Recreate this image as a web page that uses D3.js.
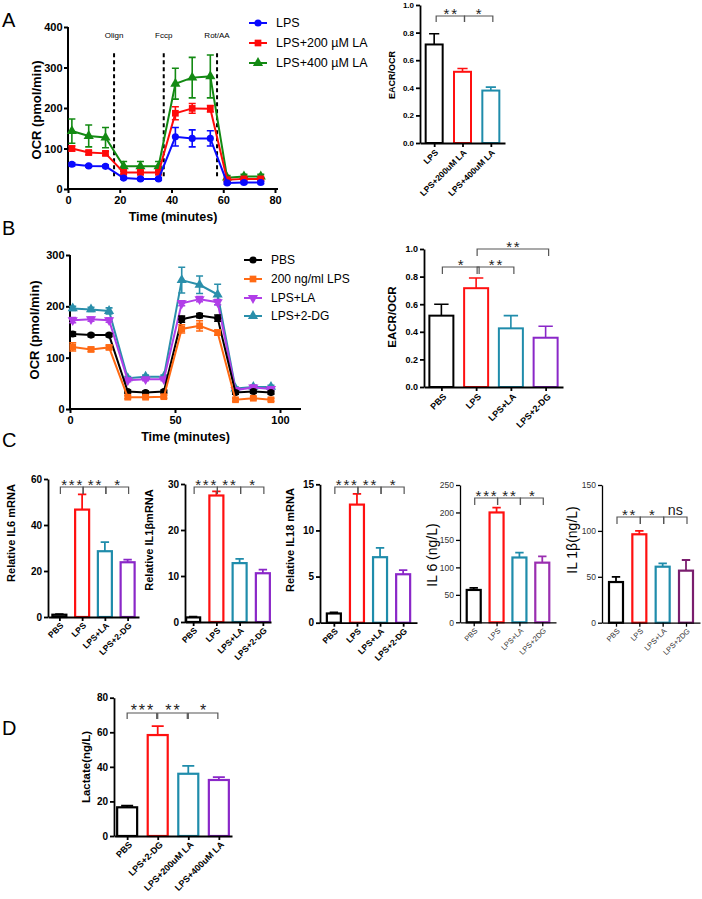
<!DOCTYPE html>
<html>
<head>
<meta charset="utf-8">
<script src="https://cdn.jsdelivr.net/npm/d3@7"></script>
<style>
  body { margin: 0; background: #fff; }
  svg { display: block; }
</style>
</head>
<body>
<svg id="fig" width="702" height="899"></svg>
<script>
// ---- data: panel A (OCR time course) ----
const timeA = [1.5, 8, 14.5, 21.5, 28, 35, 41.5, 48, 55, 61.5, 68, 74.5];
const ocrA_lps = [61, 57, 56, 27, 25, 25, 129, 125, 125, 15, 16, 16];
const ocrA_lps_err = [4, 3, 3, 3, 3, 3, 23, 21, 19, 3, 3, 3];
const ocrA_la200 = [100, 90, 88, 41, 41, 41, 187, 199, 198, 23, 25, 25];
const ocrA_la200_err = [6, 5, 5, 5, 5, 5, 16, 12, 8, 4, 4, 4];
const ocrA_la400 = [143, 131, 127, 56, 56, 56, 260, 275, 278, 28, 31, 31];
const ocrA_la400_err = [30, 27, 25, 12, 12, 12, 38, 50, 53, 5, 5, 5];
const injTimes = [17.8, 37, 57.6];
const injLabels = ['Olign', 'Fccp', 'Rot/AA'];
const seriesNamesA = ['LPS', 'LPS+200 \u00b5M LA', 'LPS+400 \u00b5M LA'];

// ---- panel A bars ----
const catsA = ['LPS', 'LPS+200uM LA', 'LPS+400uM LA'];
const ratioA = [0.714, 0.516, 0.38];
const ratioA_err = [0.078, 0.024, 0.025];
const sigA = [[0, 1, '**'], [1, 2, '*']];

// ---- panel B (OCR time course) ----
const timeB = [1.3, 10, 18.6, 27.5, 36, 44.7, 53.2, 61.7, 70.3, 78.8, 87.3, 95.7];
const ocrB_pbs = [146, 144, 144, 34, 32, 34, 175, 182, 177, 32, 34, 32];
const ocrB_pbs_err = [4, 3, 3, 3, 3, 3, 6, 4, 6, 3, 3, 3];
const ocrB_lps = [121, 116, 120, 23, 23, 24, 156, 162, 149, 18, 21, 18];
const ocrB_lps_err = [8, 4, 4, 3, 3, 3, 8, 10, 5, 3, 3, 3];
const ocrB_la = [173, 175, 173, 56, 58, 58, 206, 214, 208, 37, 42, 39];
const ocrB_la_err = [5, 4, 4, 3, 3, 3, 5, 5, 5, 3, 4, 3];
const ocrB_dg = [196, 194, 191, 60, 63, 63, 251, 242, 223, 40, 43, 43];
const ocrB_dg_err = [4, 4, 6, 3, 3, 3, 25, 17, 20, 3, 3, 3];
const seriesNamesB = ['PBS', '200 ng/ml LPS', 'LPS+LA', 'LPS+2-DG'];

// ---- panel B bars ----
const catsB = ['PBS', 'LPS', 'LPS+LA', 'LPS+2-DG'];
const ratioB = [0.517, 0.716, 0.425, 0.357];
const ratioB_err = [0.083, 0.074, 0.092, 0.083];
const sigB = [[0, 1, '*'], [1, 2, '**'], [1, 3, '**']];

// ---- panel C ----
const catsC = ['PBS', 'LPS', 'LPS+LA', 'LPS+2-DG'];
const catsC2 = ['PBS', 'LPS', 'LPS+LA', 'LPS+2DG'];
const il6mrna = [1, 46.7, 28.6, 23.8];
const il6mrna_err = [0.3, 6.6, 4.0, 1.1];
const il1bmrna = [1, 27.5, 12.8, 10.6];
const il1bmrna_err = [0.15, 0.9, 0.9, 0.8];
const il18mrna = [1.0, 12.8, 7.1, 5.25];
const il18mrna_err = [0.12, 1.15, 1.0, 0.45];
const il6prot = [58.9, 200, 118, 108.6];
const il6prot_err = [3.6, 9, 8.7, 11.4];
const il1bprot = [44.3, 96.3, 61, 56.7];
const il1bprot_err = [5.7, 3.6, 3.7, 11.6];
const sigC = [[0, 1, '***'], [1, 2, '**'], [2, 3, '*']];
const sigC5 = [[0, 1, '**'], [1, 2, '*'], [2, 3, 'ns']];

// ---- panel D ----
const catsD = ['PBS', 'LPS+2-DG', 'LPS+200uM LA', 'LPS+400uM LA'];
const lactate = [16.6, 58.4, 36, 32.4];
const lactate_err = [0.9, 5.2, 4.5, 1.6];
const sigD = [[0, 1, '***'], [1, 2, '**'], [2, 3, '*']];

// colours
const RED = '#ff1010', TEAL = '#1f8cab', PURPLE = '#8a27c8';

const FONT = '"Liberation Sans", Arial, sans-serif';
const svg = d3.select('#fig');
svg.append('rect').attr('width', 702).attr('height', 899).attr('fill', '#fff');

function styleAxis(g, fs, sw, fw, col) {
  g.attr('font-family', FONT).attr('font-size', fs).attr('font-weight', fw || 'bold');
  g.select('.domain').attr('stroke-width', sw).attr('stroke', '#000');
  g.selectAll('.tick line').attr('stroke-width', sw).attr('stroke', '#000');
  g.selectAll('.tick text').attr('fill', col || '#000');
}

function vTitle(x, y, txt, fs, fw) {
  svg.append('text').attr('transform', `translate(${x},${y}) rotate(-90)`)
    .attr('text-anchor', 'middle').attr('dy', '0.35em')
    .attr('font-family', FONT).attr('font-size', fs).attr('font-weight', fw)
    .text(txt);
}

function panelLabel(x, y, t) {
  svg.append('text').attr('x', x).attr('y', y).attr('font-family', FONT)
    .attr('font-size', 20).text(t);
}

// ---------- line (OCR) panels ----------
function linePanel(o) {
  const x = d3.scaleLinear().domain(o.xd).range(o.xr);
  const y = d3.scaleLinear().domain(o.yd).range(o.yr);
  const gx = svg.append('g').attr('transform', `translate(0,${o.yr[0]})`)
    .call(d3.axisBottom(x).tickValues(o.xt).tickSize(4).tickSizeOuter(0).tickPadding(3));
  styleAxis(gx, 11, 2);
  const gy = svg.append('g').attr('transform', `translate(${o.xr[0]},0)`)
    .call(d3.axisLeft(y).tickValues(o.yt).tickSize(4).tickSizeOuter(0).tickPadding(1.5));
  styleAxis(gy, 11, 2);
  gx.select('.domain').attr('d', `M${o.xr[0]},0H${o.xend}`);
  gy.select('.domain').attr('d', `M0,${o.yr[0]}V${o.yr[1]}`);

  vTitle(o.ytx, o.yty, 'OCR (pmol/min)', 13, 'bold');
  svg.append('text').attr('x', (o.xr[0] + o.xend) / 2).attr('y', o.xty)
    .attr('text-anchor', 'middle').attr('font-family', FONT).attr('font-size', 12.5)
    .attr('font-weight', 'bold').text('Time (minutes)');

  if (o.inj) {
    o.inj.forEach((t, i) => {
      svg.append('line').attr('x1', x(t)).attr('x2', x(t)).attr('y1', y(o.injTop)).attr('y2', y(o.injBot))
        .attr('stroke', '#000').attr('stroke-width', 2).attr('stroke-dasharray', '4,3');
      svg.append('text').attr('x', x(t)).attr('y', o.injLabY).attr('text-anchor', 'middle')
        .attr('font-family', FONT).attr('font-size', 8).text(o.injLab[i]);
    });
  }

  const order = o.drawOrder || o.series.map((s, i) => i);
  order.forEach(k => {
    const s = o.series[k];
    const g = svg.append('g');
    const pts = s.v.map((v, i) => ({ t: o.t[i], v, e: s.e[i] }));
    g.selectAll('.eb').data(pts).join('path')
      .attr('d', d => {
        const cx = x(d.t), y1 = y(d.v - d.e), y2 = y(d.v + d.e);
        return `M${cx},${y1}V${y2}M${cx - 3.5},${y2}H${cx + 3.5}M${cx - 3.5},${y1}H${cx + 3.5}`;
      })
      .attr('stroke', s.c).attr('stroke-width', 1.6).attr('fill', 'none');
    g.append('path').datum(pts)
      .attr('d', d3.line().x(d => x(d.t)).y(d => y(d.v)))
      .attr('stroke', s.c).attr('stroke-width', 2).attr('fill', 'none');
    g.selectAll('.mk').data(pts).join('path')
      .attr('d', d3.symbol().type(s.sym).size(s.size))
      .attr('transform', d => `translate(${x(d.t)},${y(d.v)}) rotate(${s.rot || 0})`)
      .attr('fill', s.c);
  });

  // legend
  o.series.forEach((s, i) => {
    const ly = o.leg.y[i];
    svg.append('line').attr('x1', o.leg.x - 9).attr('x2', o.leg.x + 9).attr('y1', ly).attr('y2', ly)
      .attr('stroke', s.c).attr('stroke-width', 2);
    svg.append('path').attr('d', d3.symbol().type(s.sym).size(s.size)())
      .attr('transform', `translate(${o.leg.x},${ly}) rotate(${s.rot || 0})`).attr('fill', s.c);
    svg.append('text').attr('x', o.leg.x + 18).attr('y', ly).attr('dy', '0.35em')
      .attr('font-family', FONT).attr('font-size', o.leg.fs).text(s.name);
  });
}

// ---------- bar panels ----------
function barPanel(o) {
  const x = d3.scalePoint().domain(o.cats).range(o.xr).padding(o.pad);
  const y = d3.scaleLinear().domain([0, o.max]).range(o.yr);
  const g = svg.append('g');
  const rows = o.cats.map((c, i) => ({ c, v: o.vals[i], e: o.errs[i], col: o.colors[i] }));
  const cap = o.bw * 0.6;

  g.selectAll('.eb').data(rows).join('path')
    .attr('d', d => `M${x(d.c)},${y(d.v)}V${y(d.v + d.e)}M${x(d.c) - cap / 2},${y(d.v + d.e)}H${x(d.c) + cap / 2}`)
    .attr('stroke', d => d.col).attr('stroke-width', o.sw * 0.8).attr('fill', 'none');
  g.selectAll('.bar').data(rows).join('rect')
    .attr('x', d => x(d.c) - o.bw / 2).attr('y', d => y(d.v))
    .attr('width', o.bw).attr('height', d => y(0) - y(d.v))
    .attr('fill', '#fff').attr('stroke', d => d.col).attr('stroke-width', o.sw);

  const gy = g.append('g').attr('transform', `translate(${o.xr[0]},0)`)
    .call(d3.axisLeft(y).tickValues(o.ticks).tickSize(4).tickSizeOuter(0).tickPadding(2)
      .tickFormat(o.fmt || d3.format('d')));
  styleAxis(gy, o.tfs, o.asw, o.tfw, o.tcol);
  const gx = g.append('g').attr('transform', `translate(0,${o.yr[0]})`)
    .call(d3.axisBottom(x).tickSize(4).tickSizeOuter(0));
  styleAxis(gx, o.xfs, o.asw, o.tfw, o.tcol);
  gx.selectAll('.tick text')
    .attr('x', 0).attr('y', 0).attr('dy', '0.35em')
    .attr('transform', `translate(${o.lx},${o.ly}) rotate(-45)`)
    .attr('text-anchor', 'end');

  vTitle(o.tx, o.ty, o.title, o.titleFs, o.titleFw);

  o.sig.forEach(([a, b, lab], k) => {
    const x1 = x(o.cats[a]) + o.bin[0], x2 = x(o.cats[b]) + o.bin[1];
    const yy = o.by[k];
    g.append('path').attr('d', `M${x1},${yy + o.drop}V${yy}H${x2}V${yy + o.drop}`)
      .attr('stroke', '#555').attr('stroke-width', 1.2).attr('fill', 'none');
    const isStar = lab !== 'ns';
    const ls = isStar ? o.sfs * 0.12 : 0;
    g.append('text').attr('x', (x1 + x2) / 2 + ls / 2)
      .attr('y', isStar ? yy + o.sfs * 0.2 : yy - 2)
      .attr('text-anchor', 'middle').attr('font-family', FONT)
      .attr('font-size', isStar ? o.sfs : o.sfs * 0.95)
      .attr('letter-spacing', ls)
      .attr('fill', '#222').text(lab);
  });
}

// ======== Panel A ========
panelLabel(2, 27, 'A');
linePanel({
  t: timeA, xd: [0, 80], xr: [68, 275], xend: 278, xt: [0, 20, 40, 60, 80],
  yd: [0, 400], yr: [189, 27], yt: [0, 100, 200, 300, 400],
  ytx: 36, yty: 110, xty: 221,
  inj: injTimes, injLab: injLabels, injTop: 335, injBot: 27, injLabY: 38,
  drawOrder: [2, 1, 0],
  series: [
    { name: seriesNamesA[0], v: ocrA_lps, e: ocrA_lps_err, c: '#0a0aff', sym: d3.symbolCircle, size: 40 },
    { name: seriesNamesA[1], v: ocrA_la200, e: ocrA_la200_err, c: '#ff0a0a', sym: d3.symbolSquare, size: 45 },
    { name: seriesNamesA[2], v: ocrA_la400, e: ocrA_la400_err, c: '#138a13', sym: d3.symbolTriangle, size: 45 }
  ],
  leg: { x: 258, y: [23, 43, 63], fs: 12.5 }
});

barPanel({
  cats: catsA, vals: ratioA, errs: ratioA_err, colors: ['#000', RED, TEAL],
  xr: [420, 505], pad: 0.5, bw: 17, max: 1.0, yr: [143, 5],
  ticks: [0, 0.2, 0.4, 0.6, 0.8, 1.0], fmt: d3.format('.1f'),
  sw: 2, asw: 1.8, tfs: 8, xfs: 8.5, lx: 2, ly: 8,
  title: 'EACR/OCR', tx: 392, ty: 75, titleFs: 9, titleFw: 'bold',
  sig: sigA, by: [16, 16], bin: [2, 2], drop: 6, sfs: 15
});

// ======== Panel B ========
panelLabel(2, 235, 'B');
linePanel({
  t: timeB, xd: [0, 110], xr: [70, 301], xend: 301, xt: [0, 50, 100],
  yd: [0, 300], yr: [409, 255], yt: [0, 100, 200, 300],
  ytx: 34, yty: 330, xty: 441,
  drawOrder: [3, 2, 0, 1],
  series: [
    { name: seriesNamesB[0], v: ocrB_pbs, e: ocrB_pbs_err, c: '#000', sym: d3.symbolCircle, size: 40 },
    { name: seriesNamesB[1], v: ocrB_lps, e: ocrB_lps_err, c: '#ff6a14', sym: d3.symbolSquare, size: 45 },
    { name: seriesNamesB[2], v: ocrB_la, e: ocrB_la_err, c: '#b13ee8', sym: d3.symbolTriangle, size: 45, rot: 180 },
    { name: seriesNamesB[3], v: ocrB_dg, e: ocrB_dg_err, c: '#2a8fab', sym: d3.symbolTriangle, size: 45 }
  ],
  leg: { x: 253, y: [260, 279, 298, 316], fs: 12 }
});

barPanel({
  cats: catsB, vals: ratioB, errs: ratioB_err, colors: ['#000', RED, TEAL, PURPLE],
  xr: [424, 563], pad: 0.5, bw: 24, max: 1.0, yr: [387, 249],
  ticks: [0, 0.2, 0.4, 0.6, 0.8, 1.0], fmt: d3.format('.1f'),
  sw: 2, asw: 1.8, tfs: 9, xfs: 9, lx: 3, ly: 8,
  title: 'EACR/OCR', tx: 392, ty: 317, titleFs: 11.5, titleFw: 'bold',
  sig: sigB, by: [267, 267, 249], bin: [1, 3], drop: 7, sfs: 15
});

// ======== Panel C ========
panelLabel(2, 447, 'C');
const cBase = { sw: 2.2, asw: 1.8, bw: 14, tfs: 10, xfs: 8.5, lx: 2, ly: 7,
  titleFs: 11, titleFw: 'bold', bin: [1, 1], drop: 7, sfs: 15 };

barPanel(Object.assign({}, cBase, {
  cats: catsC, vals: il6mrna, errs: il6mrna_err, colors: ['#000', RED, TEAL, PURPLE],
  xr: [48, 139], pad: 0.5, max: 60, yr: [617, 479], ticks: [0, 20, 40, 60],
  title: 'Relative IL6 mRNA', tx: 11, ty: 533, sig: sigC, by: [487, 487, 487]
}));
barPanel(Object.assign({}, cBase, {
  cats: catsC, vals: il1bmrna, errs: il1bmrna_err, colors: ['#000', RED, TEAL, PURPLE],
  xr: [185, 271], pad: 0.35, max: 30, yr: [622, 484], ticks: [0, 10, 20, 30],
  title: 'Relative IL1\u03b2mRNA', tx: 149, ty: 540, sig: sigC, by: [487, 487, 487]
}));
barPanel(Object.assign({}, cBase, {
  cats: catsC, vals: il18mrna, errs: il18mrna_err, colors: ['#000', RED, TEAL, PURPLE],
  xr: [320, 417], pad: 0.6, max: 15, yr: [622.7, 484.3], ticks: [0, 5, 10, 15],
  title: 'Relative IL18 mRNA', tx: 290, ty: 540, sig: sigC, by: [487, 487, 487]
}));
barPanel(Object.assign({}, cBase, {
  cats: catsC2, vals: il6prot, errs: il6prot_err, colors: ['#000', RED, TEAL, '#9a2eb0'],
  xr: [460, 556], pad: 0.6, max: 250, yr: [622.3, 485], ticks: [0, 50, 100, 150, 200, 250],
  asw: 1.3, tfs: 8.5, xfs: 7.5, tfw: 'normal', tcol: '#333',
  title: 'IL 6 (ng/L)', tx: 432, ty: 555, titleFs: 14, titleFw: 'normal',
  sig: sigC, by: [498, 498, 498]
}));
barPanel(Object.assign({}, cBase, {
  cats: catsC2, vals: il1bprot, errs: il1bprot_err, colors: ['#000', RED, TEAL, '#7a1d6e'],
  xr: [602, 700], pad: 0.6, max: 150, yr: [622.7, 485], ticks: [0, 50, 100, 150],
  asw: 1.3, tfs: 8.5, xfs: 7.5, tfw: 'normal', tcol: '#333',
  title: 'IL 1\u03b2(ng/L)', tx: 572, ty: 540, titleFs: 14, titleFw: 'normal',
  sig: sigC5, by: [517, 517, 517]
}));

// ======== Panel D ========
panelLabel(2, 735, 'D');
barPanel({
  cats: catsD, vals: lactate, errs: lactate_err, colors: ['#000', RED, TEAL, PURPLE],
  xr: [114, 232], pad: 0.43, bw: 20, max: 80, yr: [836, 697.7], ticks: [0, 20, 40, 60, 80],
  sw: 2.2, asw: 1.8, tfs: 10, xfs: 9, lx: 3, ly: 7,
  title: 'Lactate(ng/L)', tx: 86, ty: 767, titleFs: 11.5, titleFw: 'bold',
  sig: sigD, by: [713, 713, 713], bin: [0, -1], drop: 6, sfs: 16
});
</script>
</body>
</html>
